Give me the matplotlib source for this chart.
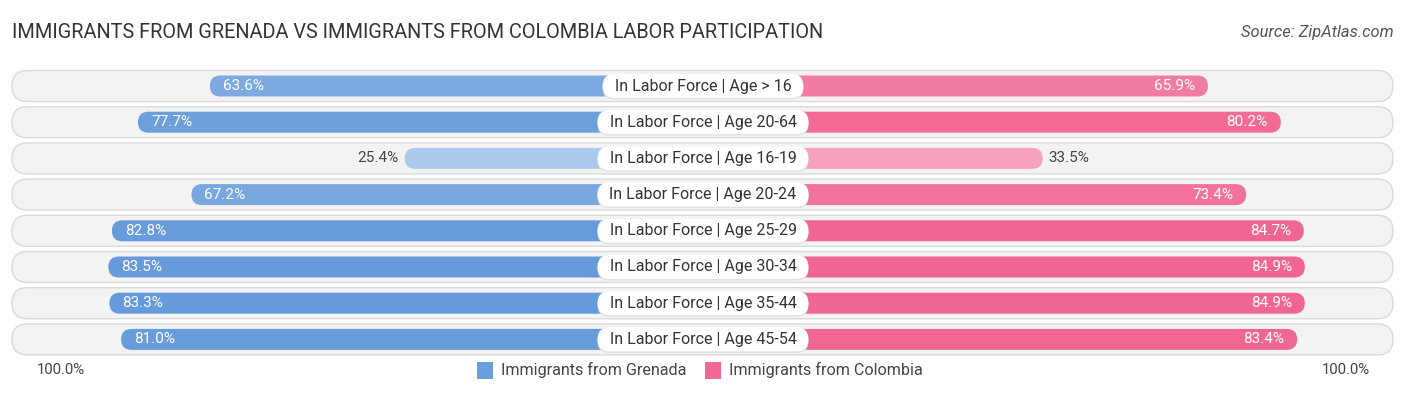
import matplotlib
matplotlib.use("Agg")
import matplotlib.pyplot as plt
from matplotlib.patches import FancyBboxPatch, Rectangle
import numpy as np

categories = ["In Labor Force | Age > 16", "In Labor Force | Age 20-64", "In Labor Force | Age 16-19",
              "In Labor Force | Age 20-24", "In Labor Force | Age 25-29", "In Labor Force | Age 30-34",
              "In Labor Force | Age 35-44", "In Labor Force | Age 45-54"]
grenada = [63.6, 77.7, 25.4, 67.2, 82.8, 83.5, 83.3, 81.0]
colombia = [65.9, 80.2, 33.5, 73.4, 84.7, 84.9, 84.9, 83.4]
series_names = ["Immigrants from Grenada", "Immigrants from Colombia"]
title = "IMMIGRANTS FROM GRENADA VS IMMIGRANTS FROM COLOMBIA LABOR PARTICIPATION"
source = "Source: ZipAtlas.com"

plt.rcParams['font.family'] = ['Roboto', 'DejaVu Sans']

W, H = 1406, 395
fig = plt.figure(figsize=(W / 100, H / 100), dpi=100)
ax = fig.add_axes([0, 0, 1, 1])
ax.axis("off")

PX_X = 5.1      # px per data unit (x)
PX_Y = 36.2     # px per row
CX = 703
Y0 = 86
OFF = 33.1      # center gap in data units

ax.set_xlim(-CX / PX_X, (W - CX) / PX_X)
ax.set_ylim((H - Y0) / PX_Y, -Y0 / PX_Y)
asp = PX_X / PX_Y

def mix(c1, c2, t):
    c1 = np.array(matplotlib.colors.to_rgb(c1)); c2 = np.array(matplotlib.colors.to_rgb(c2))
    return tuple(c1 + (c2 - c1) * t)

def col(v, light, dark):
    t = np.clip((v - 20) / 65.0, 0, 1)
    return mix(light, dark, t)

def rbox(x0, x1, yc, h_px, fc, ec="none", lw=0, z=1):
    h = h_px / PX_Y
    r = (h_px / 2) / PX_X
    p = FancyBboxPatch((x0, yc - h / 2), x1 - x0, h,
                       boxstyle=f"round,pad=0,rounding_size={r}",
                       mutation_aspect=asp, fc=fc, ec=ec, lw=lw, zorder=z)
    ax.add_patch(p)

x_left_track = (12 - CX) / PX_X
x_right_track = (1393 - CX) / PX_X

fig.canvas.draw()
renderer = fig.canvas.get_renderer()

for i, (cat, g, c) in enumerate(zip(categories, grenada, colombia)):
    rbox(x_left_track, x_right_track, i, 31, "#f3f3f3", "#dadada", 1.0, z=1)
    gb = col(g, "#b2cef0", "#6499da")
    cb = col(c, "#f7b2c9", "#f06591")
    rbox(-(OFF + g), 0, i, 21, gb, z=2)
    rbox(0, OFF + c, i, 21, cb, z=2)
    t = ax.text(0, i, cat, ha="center", va="center", fontsize=11.5, color="#333333", zorder=6)
    tw = t.get_window_extent(renderer=renderer).width
    half = (tw / 2 + 12) / PX_X
    rbox(-half, half, i + 1.5 / PX_Y, 24, "#e2e2e2", z=4)
    rbox(-half, half, i, 24, "white", z=5)
    if g > 40:
        ax.text(-(OFF + g) + 13 / PX_X, i, f"{g:.1f}%", ha="left", va="center",
                fontsize=11, color="white", zorder=4)
    else:
        ax.text(-(OFF + g) - 6 / PX_X, i, f"{g:.1f}%", ha="right", va="center",
                fontsize=11, color="#444444", zorder=4)
    if c > 40:
        ax.text(OFF + c - 13 / PX_X, i, f"{c:.1f}%", ha="right", va="center",
                fontsize=11, color="white", zorder=4)
    else:
        ax.text(OFF + c + 6 / PX_X, i, f"{c:.1f}%", ha="left", va="center",
                fontsize=11, color="#444444", zorder=4)

fig.text(12 / W, 1 - 33 / H, title, ha="left", va="center", fontsize=14.3, color="#333333")
fig.text(1394 / W, 1 - 33 / H, source, ha="right", va="center", fontsize=11.9, color="#555555",
         style="italic")

yb = 1 - 370 / H
fig.text(37 / W, yb, "100.0%", ha="left", va="center", fontsize=10.7, color="#444444")
fig.text(1370 / W, yb, "100.0%", ha="right", va="center", fontsize=10.7, color="#444444")

for x0, name, cc in [(477, series_names[0], "#6a9fdc"), (705, series_names[1], "#f06896")]:
    fig.patches.append(Rectangle((x0 / W, 1 - 379 / H), 16 / W, 17 / H, transform=fig.transFigure,
                                 fc=cc, ec="none"))
    fig.text((x0 + 24) / W, yb, name, ha="left", va="center", fontsize=11.6, color="#444444")

fig.savefig("out.png", dpi=100)
